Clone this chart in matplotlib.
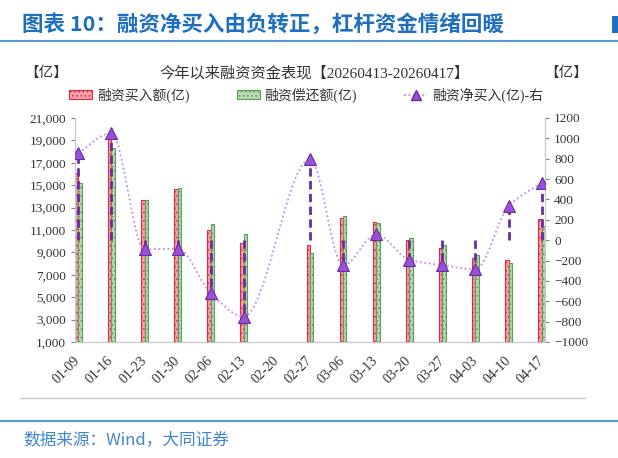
import matplotlib
matplotlib.use("Agg")
import matplotlib.pyplot as plt
from matplotlib.patches import Patch, Rectangle
from matplotlib.lines import Line2D
import numpy as np

plt.rcParams['font.family'] = ['Liberation Serif', 'Noto Sans CJK SC', 'DejaVu Sans']
plt.rcParams['hatch.linewidth'] = 0.6

# data (weekly, 亿)
dates = ['01-09', '01-16', '01-23', '01-30', '02-06', '02-13', '02-20', '02-27',
         '03-06', '03-13', '03-20', '03-27', '04-03', '04-10', '04-17']
buy = [16050, 19450, 13650, 14680, 11040, 9850, np.nan, 9690,
       12050, 11700, 10150, 9410, 8520, 8280, 11940]
repay = [15200, 18330, 13710, 14730, 11520, 10630, np.nan, 8960,
         12260, 11640, 10300, 9650, 8810, 8010, 11380]
net = [857, 1053, -90, -82, -520, -750, np.nan, 798,
       -248, 56, -193, -245, -287, 334, 563]

blue = '#1E6FC0'
red_edge, red_fill = '#E02A3C', '#F2A3AC'
green_edge, green_fill = '#5E9E5A', '#B9D7B2'
purple = '#9B4FDB'
purple_dark = '#6A2C9E'
line_purple = '#C28AF0'


def smooth(xs, ys, n=40):
    # monotone cubic (pchip) through the points, only for drawing the curve
    h = np.diff(xs)
    delta = np.diff(ys) / h
    d = np.zeros_like(ys)
    for k in range(1, len(xs) - 1):
        if delta[k - 1] * delta[k] > 0:
            w1 = 2 * h[k] + h[k - 1]
            w2 = h[k] + 2 * h[k - 1]
            d[k] = (w1 + w2) / (w1 / delta[k - 1] + w2 / delta[k])
    d[0] = delta[0]
    d[-1] = delta[-1]
    px, py = [], []
    for k in range(len(xs) - 1):
        t = np.linspace(0, 1, n)
        h00 = 2 * t ** 3 - 3 * t ** 2 + 1
        h10 = t ** 3 - 2 * t ** 2 + t
        h01 = -2 * t ** 3 + 3 * t ** 2
        h11 = t ** 3 - t ** 2
        px.append(xs[k] + t * h[k])
        py.append(h00 * ys[k] + h10 * h[k] * d[k] + h01 * ys[k + 1] + h11 * h[k] * d[k + 1])
    return np.concatenate(px), np.concatenate(py)


fig = plt.figure(figsize=(6.18, 4.58), dpi=100)

# header
fig.text(22 / 618, 1 - 24 / 458, '图表 10：融资净买入由负转正，杠杆资金情绪回暖',
         fontsize=15.5, fontweight='bold', color=blue, va='center', ha='left',
         family=['Noto Sans CJK SC'])
fig.add_artist(Rectangle((612 / 618, 1 - 33 / 458), 6 / 618, 17 / 458, color=blue, lw=0))
fig.add_artist(Line2D([0, 1], [1 - 41 / 458] * 2, color='#5B9BD5', lw=1.5))
fig.add_artist(Line2D([20 / 618, 585 / 618], [1 - 398 / 458] * 2, color='#C8C8C8', lw=1))
fig.add_artist(Line2D([0, 1], [1 - 421 / 458] * 2, color='#5B9BD5', lw=1.5))
fig.text(23 / 618, 1 - 440 / 458, '数据来源：Wind，大同证券', fontsize=12, color='#3F86D0',
         style='italic', va='center', ha='left', family=['Noto Sans CJK SC'])

ax = fig.add_axes([75 / 618, 1 - 342 / 458, 470 / 618, 224 / 458])
ax2 = ax.twinx()

x = np.arange(len(dates))
w = 0.1
ax.bar(x - w / 2, buy, w, color=red_fill, edgecolor=red_edge, lw=0.8, hatch='....', zorder=2)
ax.bar(x + w / 2, repay, w, color=green_fill, edgecolor=green_edge, lw=0.8, hatch='....', zorder=2)

ax.set_ylim(1000, 21000)
ax.set_yticks(np.arange(1000, 21001, 2000))
ax.set_yticklabels([f'{v:,}' for v in range(1000, 21001, 2000)])
ax.set_xlim(-0.1, 14.1)
ax.set_xticks(x)
ax.set_xticklabels(dates, rotation=45, ha='right', va='center', rotation_mode='anchor')

net_arr = np.array(net, dtype=float)
ok = ~np.isnan(net_arr)
sx, sy = smooth(x[ok].astype(float), net_arr[ok])
ax2.plot(sx, sy, color=line_purple, lw=1.3, ls=(0, (1, 1.5)), zorder=3)
ax2.vlines(x[ok], 0, net_arr[ok], colors=purple_dark, lw=2, linestyles=(0, (3, 1.6)), zorder=4)
ax2.plot(x[ok], net_arr[ok], ls='none', marker='^', ms=8, mfc=purple, mec=purple_dark, mew=0.8, zorder=5)
ax2.set_ylim(-1000, 1200)
ax2.set_yticks(np.arange(-1000, 1201, 200))
ax2.set_xlim(-0.1, 14.1)

for a in (ax, ax2):
    for s in a.spines.values():
        s.set_color('#C8C8C8')
    a.spines['top'].set_visible(False)
    a.tick_params(axis='both', colors='#7F7F7F', labelcolor='#333333', labelsize=9.5, length=3)
ax.tick_params(axis='x', length=0, labelsize=10, pad=12)
ax.set_zorder(ax2.get_zorder() - 1)
ax2.patch.set_visible(False)
ax.patch.set_visible(False)

# titles and units
fig.text(315 / 618, 1 - 73 / 458, '今年以来融资资金表现【20260413-20260417】', fontsize=11,
         color='#333333', ha='center', va='center')
fig.text(46 / 618, 1 - 73 / 458, '【亿】', fontsize=10.5, color='#333333', ha='center', va='center')
fig.text(566 / 618, 1 - 73 / 458, '【亿】', fontsize=10.5, color='#333333', ha='center', va='center')

handles = [Patch(facecolor=red_fill, edgecolor=red_edge, hatch='....', lw=0.8),
           Patch(facecolor=green_fill, edgecolor=green_edge, hatch='....', lw=0.8),
           Line2D([], [], color=line_purple, ls=(0, (1, 1.5)), lw=1.3, marker='^', ms=7,
                  mfc=purple, mec=purple_dark)]
labels = ['融资买入额(亿)', '融资偿还额(亿)', '融资净买入(亿)-右']
fig.legend(handles, labels, loc='center', bbox_to_anchor=(306 / 618, 1 - 95 / 458), ncol=3,
           frameon=False, fontsize=10, columnspacing=3.4, handlelength=1.65, handletextpad=0.35,
           labelcolor='#333333')

fig.savefig('out.png', dpi=100)
